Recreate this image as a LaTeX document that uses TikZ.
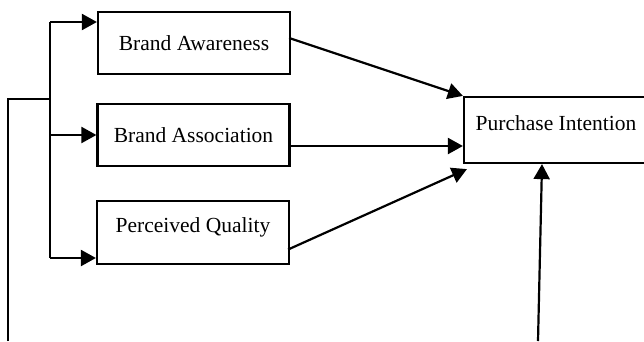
\documentclass[tikz,border=0pt]{standalone}
\usepackage{fontspec}
\setmainfont{Liberation Serif}
\usetikzlibrary{arrows.meta,calc}

\begin{document}
\begin{tikzpicture}[x=1pt,y=-1pt,font=\fontsize{21.5}{25}\selectfont,
  box/.style={draw,line width=2.2pt,minimum width=192pt,minimum height=62pt,inner sep=0pt},
  arr/.style={line width=2.2pt,-{Triangle[length=15pt,width=16pt]}},
  feed/.style={line width=1.1pt}]
\useasboundingbox (0,0) rectangle (644,341);
\clip (0,0) rectangle (644,341);
% the three dimensions
\node[box] (aware) at (194,43) {Brand Awareness};
\node[box] (assoc) at (193.5,135) {Brand Association};
\node[box,minimum height=63pt,text depth=14pt] (quality) at (193,232.5) {Perceived Quality};
\node[box,minimum width=184pt,minimum height=66pt,text depth=14pt] (intent) at (556,130) {Purchase Intention};
% feed and fork on the left
\coordinate (src) at (8,341);
\coordinate (fork) at (50,99);
\coordinate (t1) at (50,22);
\coordinate (t2) at (50,135);
\coordinate (t3) at (50,258);
\coordinate (low) at (538,341);
\draw[feed] (src) |- (fork);
\draw[feed] (t1) -- (t3);
\draw[arr] (t1) -- (t1 -| aware.west);
\draw[arr] (t2) -- (t2 -| assoc.west);
\draw[arr] (t3) -- (t3 -| quality.west);
% into purchase intention
\draw[arr] ($(aware.east)+(-2,-5)$) -- (intent.north west);
\draw[arr] ($(assoc.east)+(-2,11)$) -- ($(intent.west)+(0,16)$);
\draw[arr] ($(quality.east)+(-2,17)$) -- ($(intent.south west)+(4,5)$);
\draw[arr] (low) -- ($(intent.south)+(-14,0)$);
\end{tikzpicture}
\end{document}
